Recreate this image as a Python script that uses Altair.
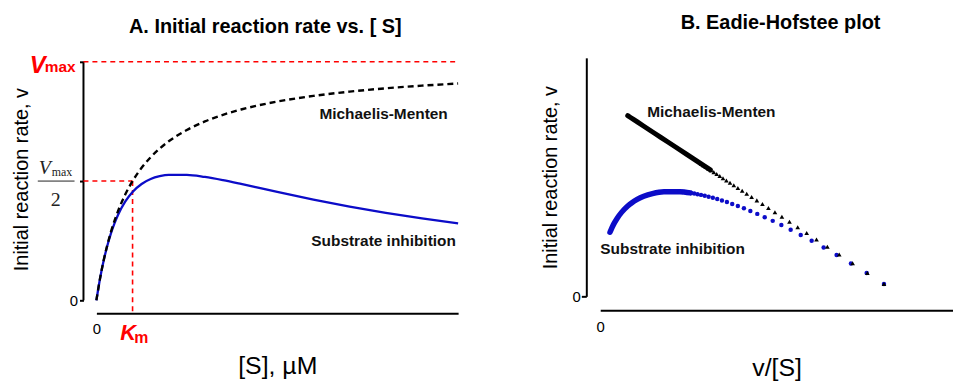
import altair as alt
import pandas as pd

# ---------------- data (S in units of Km, v in units of Vmax) ----------------
# Panel A curves
S_CURVE = [0, 0.1, 0.2, 0.3, 0.4, 0.5, 0.6, 0.8, 1.0, 1.25, 1.5, 1.75, 2.0,
           2.5, 3.0, 3.5, 4.0, 4.5, 5.0, 6.0, 7.0, 8.0, 9.0, 10.0]
V_MM_CURVE = [0, 0.0909, 0.1667, 0.2308, 0.2857, 0.3333, 0.375, 0.4444, 0.5,
              0.5556, 0.6, 0.6364, 0.6667, 0.7143, 0.75, 0.7778, 0.8, 0.8182,
              0.8333, 0.8571, 0.875, 0.8889, 0.9, 0.9091]
V_SI_CURVE = [0, 0.0907, 0.1656, 0.2276, 0.2793, 0.3226, 0.3589, 0.4149, 0.4545,
              0.4878, 0.5085, 0.5204, 0.5263, 0.5263, 0.5172, 0.5036, 0.4878,
              0.4712, 0.4545, 0.4225, 0.3933, 0.3670, 0.3435, 0.3226]

# Panel B individual (sparse) points
S_POINTS = [0.0667, 0.1333, 0.2, 0.2667, 0.3333, 0.4, 0.4667, 0.5333, 0.6, 0.6667,
            0.7333, 0.8, 0.8667, 0.9333, 1.0, 1.0667, 1.1333, 1.2, 1.2667, 1.3333,
            1.4, 1.4667, 1.5333, 1.6, 1.6667, 1.7333, 1.8, 1.8667, 1.9333, 2.0]
V_MM_POINTS = [0.0625, 0.1176, 0.1667, 0.2105, 0.25, 0.2857, 0.3182, 0.3478, 0.375,
               0.4, 0.4231, 0.4444, 0.4643, 0.4828, 0.5, 0.5161, 0.5313, 0.5455,
               0.5588, 0.5714, 0.5833, 0.5946, 0.6053, 0.6154, 0.625, 0.6341,
               0.6429, 0.6512, 0.6591, 0.6667]
V_SI_POINTS = [0.0625, 0.1173, 0.1656, 0.2082, 0.2459, 0.2793, 0.3090, 0.3354,
               0.3589, 0.3798, 0.3984, 0.4149, 0.4297, 0.4429, 0.4545, 0.4649,
               0.4742, 0.4823, 0.4895, 0.4959, 0.5014, 0.5063, 0.5105, 0.5141,
               0.5172, 0.5199, 0.5220, 0.5238, 0.5252, 0.5263]

# Annotations, panel A (data coordinates)
A_LABEL_TEXT = ["Michaelis-Menten", "Substrate inhibition"]
A_LABEL_X = [7.94, 7.94]
A_LABEL_Y = [0.783, 0.25]
RED_ITALIC_TEXT = ["V", "K"]
RED_ITALIC_X = [-1.40, 0.66]
RED_ITALIC_Y = [0.954, -0.167]
RED_SUB_TEXT = ["max", "m"]
RED_SUB_X = [-0.577, 1.044]
RED_SUB_Y = [0.958, -0.179]
REF_X = [-0.357, -0.357, 1.0]
REF_X2 = [10.0, 1.0, 1.0]
REF_Y = [1.0, 0.5, 0.5]
REF_Y2 = [1.0, 0.5, -0.054]
AXIS_LINE_X = [-0.357]
AXIS_LINE_Y = [0.0]
AXIS_LINE_Y2 = [1.0]
FRAC_V_X, FRAC_V_Y = [-1.593], [0.529]
FRAC_MAX_X, FRAC_MAX_Y = [-1.236], [0.521]
FRAC_2_X, FRAC_2_Y = [-1.126], [0.396]
FRAC_BAR_X, FRAC_BAR_X2, FRAC_BAR_Y = [-1.62], [-0.604], [0.5]

# Annotations, panel B
B_LABEL_TEXT = ["Michaelis-Menten", "Substrate inhibition"]
B_LABEL_X = [0.367, 0.239]
B_LABEL_Y = [0.925, 0.24]

# ---------------- styles ----------------
FONT = "Liberation Sans"
SERIF = "Liberation Serif"
RED = "#ff0000"
BLUE = "#0c0cc8"

n = len(S_CURVE)
curves = pd.DataFrame({
    "S": S_CURVE * 2,
    "v": V_MM_CURVE + V_SI_CURVE,
    "series": ["MM"] * n + ["SI"] * n,
})
m = len(S_POINTS)
points = pd.DataFrame({
    "S": S_POINTS * 2,
    "v": V_MM_POINTS + V_SI_POINTS,
    "series": ["MM"] * m + ["SI"] * m,
})

# ---------------- Panel A ----------------
xA = alt.X("x:Q", scale=alt.Scale(domain=[0, 10], nice=False, zero=False),
           axis=alt.Axis(values=[0, 1], labelExpr="datum.value == 0 ? '0' : ''",
                         ticks=False, tickSize=0, offset=13, labelPadding=8,
                         labelFlush=False, labelFontSize=15, grid=False,
                         title="[S], µM", titleFontSize=25, titleFontWeight="normal",
                         titlePadding=18))
yA = alt.Y("y:Q", scale=alt.Scale(domain=[0, 1.0167], nice=False),
           axis=alt.Axis(values=[0, 0.5, 1], labelExpr="datum.value == 0 ? '0' : ''",
                         domain=False,
                         tickSize=4, offset=13, labelPadding=2, labelFontSize=15,
                         grid=False, title="Initial reaction rate,  v",
                         titleFontSize=20, titleFontWeight="normal", titlePadding=38))

def txt_df(t, x, y):
    return pd.DataFrame({"t": t, "x": x, "y": y})

axis_line = alt.Chart(pd.DataFrame({"x": AXIS_LINE_X, "y": AXIS_LINE_Y, "y2": AXIS_LINE_Y2})).mark_rule(
    color="black", strokeWidth=2
).encode(x=xA, y=yA, y2="y2:Q")

refs = alt.Chart(pd.DataFrame({"x": REF_X, "x2": REF_X2, "y": REF_Y, "y2": REF_Y2})).mark_rule(
    color=RED, strokeDash=[5, 4], strokeWidth=1.6
).encode(x=xA, x2="x2:Q", y=yA, y2="y2:Q")

si_curve = alt.Chart(curves).transform_filter("datum.series == 'SI'").transform_calculate(
    x="datum.S", y="datum.v"
).mark_line(color=BLUE, strokeWidth=2.3, interpolate="monotone").encode(x=xA, y=yA)

mm_curve = alt.Chart(curves).transform_filter("datum.series == 'MM'").transform_calculate(
    x="datum.S", y="datum.v"
).mark_line(color="black", strokeWidth=2.4, strokeDash=[6, 4], interpolate="monotone").encode(x=xA, y=yA)

labelsA = alt.Chart(txt_df(A_LABEL_TEXT, A_LABEL_X, A_LABEL_Y)).mark_text(
    font=FONT, fontSize=15.5, fontWeight="bold", color="#111111", align="center", baseline="middle"
).encode(x=xA, y=yA, text="t:N")

red_it = alt.Chart(txt_df(RED_ITALIC_TEXT, RED_ITALIC_X, RED_ITALIC_Y)).mark_text(
    font=FONT, fontSize=24, fontWeight="bold", fontStyle="italic", color=RED,
    baseline="alphabetic", align="right"
).encode(x=xA, y=yA, text="t:N").transform_filter("datum.t == 'V'")
red_k = alt.Chart(txt_df(RED_ITALIC_TEXT, RED_ITALIC_X, RED_ITALIC_Y)).mark_text(
    font=FONT, fontSize=22, fontWeight="bold", fontStyle="italic", color=RED,
    baseline="alphabetic", align="left"
).encode(x=xA, y=yA, text="t:N").transform_filter("datum.t == 'K'")
red_max = alt.Chart(txt_df(RED_SUB_TEXT, RED_SUB_X, RED_SUB_Y)).mark_text(
    font=FONT, fontSize=15.5, fontWeight="bold", color=RED, baseline="alphabetic", align="right"
).encode(x=xA, y=yA, text="t:N").transform_filter("datum.t == 'max'")
red_m = alt.Chart(txt_df(RED_SUB_TEXT, RED_SUB_X, RED_SUB_Y)).mark_text(
    font=FONT, fontSize=16, fontWeight="bold", color=RED, baseline="alphabetic", align="left"
).encode(x=xA, y=yA, text="t:N").transform_filter("datum.t == 'm'")

frac_v = alt.Chart(txt_df(["V"], FRAC_V_X, FRAC_V_Y)).mark_text(
    font=SERIF, fontSize=20, fontStyle="italic", color="#222222", baseline="alphabetic", align="left"
).encode(x=xA, y=yA, text="t:N")
frac_max = alt.Chart(txt_df(["max"], FRAC_MAX_X, FRAC_MAX_Y)).mark_text(
    font=SERIF, fontSize=12, color="#222222", baseline="alphabetic", align="left"
).encode(x=xA, y=yA, text="t:N")
frac_2 = alt.Chart(txt_df(["2"], FRAC_2_X, FRAC_2_Y)).mark_text(
    font=SERIF, fontSize=20, color="#222222", baseline="alphabetic", align="center"
).encode(x=xA, y=yA, text="t:N")
frac_bar = alt.Chart(pd.DataFrame({"x": FRAC_BAR_X, "x2": FRAC_BAR_X2, "y": FRAC_BAR_Y})).mark_rule(
    color="#222222", strokeWidth=1
).encode(x=xA, x2="x2:Q", y=yA)

panelA = alt.layer(
    axis_line, refs, si_curve, mm_curve, labelsA, red_it, red_k, red_max, red_m,
    frac_v, frac_max, frac_2, frac_bar
).properties(
    width=364, height=244,
    title=alt.TitleParams("A. Initial reaction rate vs. [ S]", font=FONT, fontSize=20,
                          fontWeight="bold", color="black", anchor="middle",
                          frame="group", dx=-12, offset=17)
)

# ---------------- Panel B ----------------
xB = alt.X("x:Q", scale=alt.Scale(domain=[0, 1.165], nice=False, zero=False),
           axis=alt.Axis(values=[0], ticks=False, tickSize=0, offset=14, labelPadding=9,
                         labelFlush=False, labelFontSize=15, grid=False,
                         title="v/[S]", titleFontSize=25, titleFontWeight="normal",
                         titlePadding=22))
yB = alt.Y("y:Q", scale=alt.Scale(domain=[0, 1.2], nice=False),
           axis=alt.Axis(values=[0], tickSize=5, offset=14, labelPadding=1, labelFontSize=15,
                         grid=False, title="Initial reaction rate,  v",
                         titleFontSize=20, titleFontWeight="normal", titlePadding=12))

si_band = alt.Chart(curves).transform_filter(
    "datum.series == 'SI' && datum.S >= 1.75"
).transform_calculate(x="datum.v / datum.S", y="datum.v").mark_line(
    color=BLUE, strokeWidth=5.5, strokeCap="round", interpolate="monotone"
).encode(x=xB, y=yB)
mm_band = alt.Chart(curves).transform_filter(
    "datum.series == 'MM' && datum.S >= 1.75"
).transform_calculate(x="datum.v / datum.S", y="datum.v").mark_line(
    color="black", strokeWidth=5, strokeCap="round"
).encode(x=xB, y=yB)
si_pts = alt.Chart(points).transform_filter("datum.series == 'SI'").transform_calculate(
    x="datum.v / datum.S", y="datum.v"
).mark_point(shape="circle", filled=True, size=20, color=BLUE, opacity=1).encode(x=xB, y=yB)
mm_pts = alt.Chart(points).transform_filter("datum.series == 'MM'").transform_calculate(
    x="datum.v / datum.S", y="datum.v"
).mark_point(shape="triangle-up", filled=True, size=22, color="black", opacity=1).encode(x=xB, y=yB)
labelsB = alt.Chart(txt_df(B_LABEL_TEXT, B_LABEL_X, B_LABEL_Y)).mark_text(
    font=FONT, fontSize=15.5, fontWeight="bold", color="#111111", align="center", baseline="middle"
).encode(x=xB, y=yB, text="t:N")

panelB = alt.layer(si_band, si_pts, mm_band, mm_pts, labelsB).properties(
    width=355, height=240,
    title=alt.TitleParams("B. Eadie-Hofstee plot", font=FONT, fontSize=20,
                          fontWeight="bold", color="black", anchor="middle",
                          frame="group", dx=4, offset=25)
)

chart = alt.hconcat(panelA, panelB, spacing=77).properties(
    padding={"left": 11, "top": 12, "right": 0, "bottom": 0},
    background="white",
).configure_view(stroke=None).configure_axis(
    domainColor="black", domainWidth=2, tickColor="black", tickWidth=2,
    labelColor="black", titleColor="black", labelFont=FONT, titleFont=FONT,
)

chart.save("out.html", embed_options={"renderer": "svg", "actions": False})
